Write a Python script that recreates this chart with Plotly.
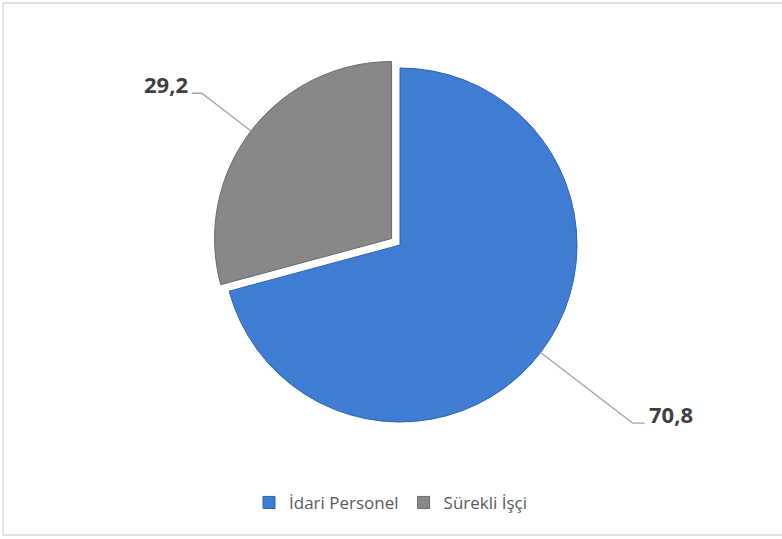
import math
import plotly.graph_objects as go

# ---- data ----
categories = ["İdari Personel", "Sürekli İşçi"]
values = [70.8, 29.2]

# ---- style / layout constants ----
W, H = 782, 539
colors = ["#3F7DD4", "#888888"]
edge_colors = ["#2F62A8", "#6A6A6A"]
pulls = [0, 0.06]
CX, CY, R = 400, 245, 177          # intended pie centre/radius in pixels
leader_len = [116, 62]              # radial leg of leader lines
leader_tail = [12, 10]              # horizontal leg
label_color = "#404040"

maxpull = max(pulls)
half = R * (1 + maxpull)
dom_x = [(CX - half) / W, (CX + half) / W]
dom_y = [(H - (CY + half)) / H, (H - (CY - half)) / H]

fig = go.Figure()
fig.add_trace(go.Pie(
    labels=categories, values=values, sort=False, direction="clockwise",
    rotation=0, pull=pulls, textinfo="none", hoverinfo="label+value",
    marker=dict(colors=colors, line=dict(color=edge_colors, width=1)),
    domain=dict(x=dom_x, y=dom_y), showlegend=True,
))

# hidden pixel-space axes for leader lines / labels
fig.add_trace(go.Scatter(x=[0, W], y=[0, H], mode="markers",
                         marker=dict(opacity=0), showlegend=False, hoverinfo="skip"))

total = sum(values)
start = 0.0
shapes = []
annotations = []
for i, v in enumerate(values):
    frac = v / total
    mid = (start + frac / 2) * 2 * math.pi     # clockwise from 12 o'clock
    start += frac
    dx, dy = math.sin(mid), -math.cos(mid)     # pixel coords (y down)
    r_edge = R * (1 + pulls[i])
    ex, ey = CX + dx * r_edge, CY + dy * r_edge
    bx, by = ex + dx * leader_len[i], ey + dy * leader_len[i]
    side = 1 if dx > 0 else -1
    tx = bx + side * leader_tail[i]
    shapes.append(dict(type="path", xref="x", yref="y",
                       path=f"M{ex},{ey} L{bx},{by} L{tx},{by}",
                       line=dict(color="#A6A6A6", width=1.3)))
    annotations.append(dict(xref="x", yref="y", x=tx + side * 2, y=by - 9,
                            text="<b>" + f"{v:.1f}".replace(".", ",") + "</b>",
                            showarrow=False,
                            xanchor="left" if side > 0 else "right",
                            yanchor="middle",
                            font=dict(family="Open Sans, Lato, sans-serif",
                                      size=22, color=label_color)))

shapes.append(dict(type="rect", xref="x", yref="y", x0=3, y0=3, x1=W + 3, y1=535,
                   line=dict(color="#D9D9D9", width=1.3), layer="below"))

fig.update_layout(
    width=W, height=H, margin=dict(l=0, r=0, t=0, b=0),
    paper_bgcolor="white", plot_bgcolor="rgba(0,0,0,0)",
    xaxis=dict(range=[0, W], visible=False, fixedrange=True),
    yaxis=dict(range=[H, 0], visible=False, fixedrange=True),
    shapes=shapes, annotations=annotations,
    legend=dict(orientation="h", x=0.5, xanchor="center", y=0.067, yanchor="middle",
                font=dict(family="Open Sans, Lato, sans-serif", size=17, color="#595959"),
                itemwidth=30, traceorder="normal"),
    separators=",.",
)

fig.write_html("out.html", config={"displayModeBar": False},
               post_script="document.body.style.margin='0px';")
